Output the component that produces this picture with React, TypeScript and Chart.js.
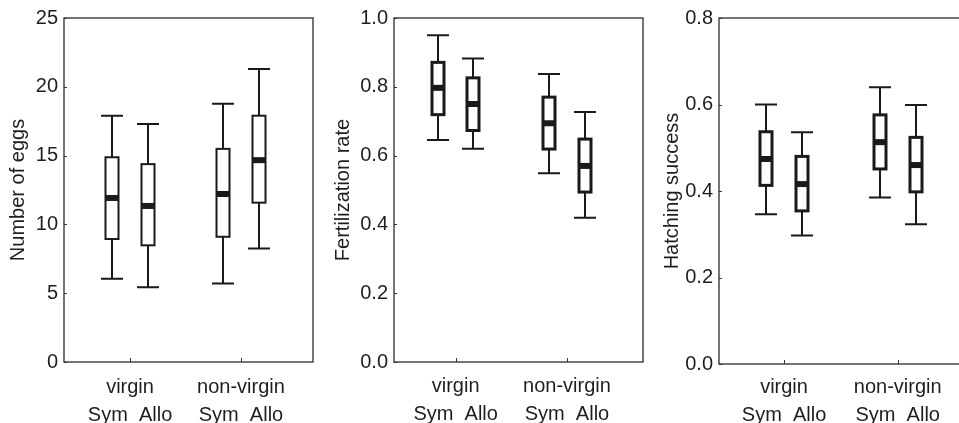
import React, { useEffect, useRef } from "react";
import { Chart, registerables } from "chart.js";

Chart.register(...registerables);

// ---- data ----
const groupLabels = ["virgin", "non-virgin"];
const originLabel = "Sym  Allo"; // Sym / Allo under each group
// box order: virgin-Sym, virgin-Allo, non-virgin-Sym, non-virgin-Allo
const boxGroup = [1, 1, 2, 2];
const boxSide = [-1, 1, -1, 1];

const eggsMin = [6.05, 5.44, 5.71, 8.24];
const eggsQ1 = [8.94, 8.48, 9.1, 11.58];
const eggsMedian = [11.92, 11.34, 12.21, 14.67];
const eggsQ3 = [14.88, 14.38, 15.49, 17.9];
const eggsMax = [17.9, 17.29, 18.76, 21.29];

const fertMin = [0.645, 0.62, 0.549, 0.419];
const fertQ1 = [0.719, 0.673, 0.619, 0.494];
const fertMedian = [0.797, 0.75, 0.694, 0.57];
const fertQ3 = [0.871, 0.826, 0.77, 0.648];
const fertMax = [0.95, 0.882, 0.837, 0.727];

const hatchMin = [0.346, 0.297, 0.385, 0.323];
const hatchQ1 = [0.413, 0.354, 0.451, 0.398];
const hatchMedian = [0.474, 0.416, 0.513, 0.46];
const hatchQ3 = [0.537, 0.48, 0.576, 0.524];
const hatchMax = [0.6, 0.536, 0.64, 0.599];

const eggsTicks = [0, 5, 10, 15, 20, 25];
const fertTicks = [0, 0.2, 0.4, 0.6, 0.8, 1.0];
const hatchTicks = [0, 0.2, 0.4, 0.6, 0.8];

type PanelCfg = {
  title: string;
  min: number[];
  q1: number[];
  median: number[];
  q3: number[];
  max: number[];
  yTicks: number[];
  decimals: number;
  // layout
  canvasLeft: number;
  canvasWidth: number;
  yAxisWidth: number;
  padRight: number;
  padTop: number;
  xAxisHeight: number;
  xPad: number;
  xMin: number;
  xMax: number;
  boxLine: number;
  titlePad: number;
};

const panels: PanelCfg[] = [
  {
    title: "Number of eggs",
    min: eggsMin, q1: eggsQ1, median: eggsMedian, q3: eggsQ3, max: eggsMax,
    yTicks: eggsTicks, decimals: 0,
    canvasLeft: 0, canvasWidth: 325, yAxisWidth: 64, padRight: 12, padTop: 15.5, xAxisHeight: 61, xPad: 11,
    xMin: 0.405, xMax: 2.649, boxLine: 2, titlePad: 6,
  },
  {
    title: "Fertilization rate",
    min: fertMin, q1: fertQ1, median: fertMedian, q3: fertQ3, max: fertMax,
    yTicks: fertTicks, decimals: 1,
    canvasLeft: 325, canvasWidth: 330, yAxisWidth: 69, padRight: 12, padTop: 15.7, xAxisHeight: 61, xPad: 10,
    xMin: 0.446, xMax: 2.683, boxLine: 3, titlePad: 6,
  },
  {
    title: "Hatching success",
    min: hatchMin, q1: hatchQ1, median: hatchMedian, q3: hatchQ3, max: hatchMax,
    yTicks: hatchTicks, decimals: 1,
    canvasLeft: 655, canvasWidth: 320, yAxisWidth: 64, padRight: 7, padTop: 18, xAxisHeight: 59, xPad: 9,
    xMin: 0.428, xMax: 2.618, boxLine: 3, titlePad: 5,
  },
];

const BOX_OFFSET = 0.16;
const INK = "#1a1a1a";
const TEXT = "#1e1e1e";
const FONT = "'Liberation Sans', Arial, sans-serif";
const FONT_SIZE = 20;

const boxPlugin = {
  id: "boxDraw",
  afterDatasetsDraw(chart: any) {
    const cfg: PanelCfg = chart.options.plugins.boxDraw.cfg;
    const xs = chart.scales.x;
    const ys = chart.scales.y;
    const ctx = chart.ctx;
    const area = chart.chartArea;
    ctx.save();

    // frame
    ctx.strokeStyle = "#2a2a2a";
    ctx.lineWidth = 1.3;
    ctx.strokeRect(area.left, area.top, area.right - area.left, area.bottom - area.top);

    // inward tick marks
    ctx.lineWidth = 1;
    ctx.strokeStyle = "#333";
    ys.ticks.forEach((t: any) => {
      const py = Math.round(ys.getPixelForValue(t.value)) + 0.5;
      ctx.beginPath();
      ctx.moveTo(area.left, py);
      ctx.lineTo(area.left + 3, py);
      ctx.stroke();
    });
    xs.ticks.forEach((t: any) => {
      const px = Math.round(xs.getPixelForValue(t.value)) + 0.5;
      ctx.beginPath();
      ctx.moveTo(px, area.bottom);
      ctx.lineTo(px, area.bottom - 4);
      ctx.stroke();
    });

    const boxW = 15 - cfg.boxLine;
    const capW = 22;
    for (let i = 0; i < cfg.median.length; i++) {
      const pos = boxGroup[i] + boxSide[i] * BOX_OFFSET;
      const x = Math.round(xs.getPixelForValue(pos));
      const yMin = ys.getPixelForValue(cfg.min[i]);
      const yQ1 = ys.getPixelForValue(cfg.q1[i]);
      const yMed = ys.getPixelForValue(cfg.median[i]);
      const yQ3 = ys.getPixelForValue(cfg.q3[i]);
      const yMax = ys.getPixelForValue(cfg.max[i]);

      ctx.strokeStyle = INK;
      ctx.lineWidth = 2;
      ctx.beginPath();
      ctx.moveTo(x, yMax);
      ctx.lineTo(x, yQ3);
      ctx.moveTo(x, yQ1);
      ctx.lineTo(x, yMin);
      ctx.moveTo(x - capW / 2, yMax);
      ctx.lineTo(x + capW / 2, yMax);
      ctx.moveTo(x - capW / 2, yMin);
      ctx.lineTo(x + capW / 2, yMin);
      ctx.stroke();

      ctx.fillStyle = "#fff";
      ctx.fillRect(x - boxW / 2, yQ3, boxW, yQ1 - yQ3);
      ctx.lineWidth = cfg.boxLine;
      ctx.strokeRect(x - boxW / 2, yQ3, boxW, yQ1 - yQ3);

      ctx.fillStyle = INK;
      ctx.fillRect(x - boxW / 2, yMed - 3, boxW, 6);
    }
    ctx.restore();
  },
};

function PanelChart({ cfg }: { cfg: PanelCfg }) {
  const ref = useRef<HTMLCanvasElement | null>(null);
  useEffect(() => {
    if (!ref.current) return;
    const medianPoints = cfg.median.map((m, i) => ({
      x: boxGroup[i] + boxSide[i] * BOX_OFFSET,
      y: m,
    }));
    const chart = new Chart(ref.current, {
      type: "scatter",
      data: {
        datasets: [
          {
            data: medianPoints,
            pointRadius: 0,
            pointHoverRadius: 0,
            showLine: false,
          },
        ],
      },
      plugins: [boxPlugin],
      options: {
        responsive: false,
        animation: false,
        devicePixelRatio: 1,
        events: [],
        layout: {
          padding: { left: 0, right: cfg.padRight, top: cfg.padTop, bottom: 0 },
        },
        plugins: {
          legend: { display: false },
          tooltip: { enabled: false },
          boxDraw: { cfg },
        } as any,
        scales: {
          x: {
            type: "linear",
            min: cfg.xMin,
            max: cfg.xMax,
            grid: { display: false, drawTicks: false },
            border: { display: false },
            afterBuildTicks: (s: any) => {
              s.ticks = [{ value: 1 }, { value: 2 }];
            },
            afterFit: (s: any) => {
              s.height = cfg.xAxisHeight;
            },
            ticks: {
              autoSkip: false,
              maxRotation: 0,
              padding: cfg.xPad,
              color: TEXT,
              font: { family: FONT, size: FONT_SIZE, lineHeight: 1.4 },
              callback: (v: any) => [groupLabels[Math.round(v) - 1], originLabel],
            },
          },
          y: {
            type: "linear",
            min: cfg.yTicks[0],
            max: cfg.yTicks[cfg.yTicks.length - 1],
            grid: { display: false, drawTicks: false },
            border: { display: false },
            afterBuildTicks: (s: any) => {
              s.ticks = cfg.yTicks.map((v) => ({ value: v }));
            },
            afterFit: (s: any) => {
              s.width = cfg.yAxisWidth;
            },
            ticks: {
              padding: 6,
              color: TEXT,
              font: { family: FONT, size: FONT_SIZE },
              callback: (v: any) => Number(v).toFixed(cfg.decimals),
            },
            title: {
              display: true,
              text: cfg.title,
              color: TEXT,
              font: { family: FONT, size: FONT_SIZE, lineHeight: 1.2 },
              padding: { top: cfg.titlePad, bottom: 0 },
            },
          },
        },
      } as any,
    });
    return () => chart.destroy();
  }, [cfg]);
  return (
    <canvas
      ref={ref}
      width={cfg.canvasWidth}
      height={423}
      style={{ display: "block", width: cfg.canvasWidth, height: 423 }}
    />
  );
}

export default function App() {
  return (
    <div
      style={{
        position: "fixed",
        left: 0,
        top: 0,
        width: 959,
        height: 423,
        overflow: "hidden",
        background: "#fff",
      }}
    >
      {panels.map((p, i) => (
        <div
          key={i}
          style={{ position: "absolute", left: p.canvasLeft, top: 0, width: p.canvasWidth, height: 423 }}
        >
          <PanelChart cfg={p} />
        </div>
      ))}
    </div>
  );
}
